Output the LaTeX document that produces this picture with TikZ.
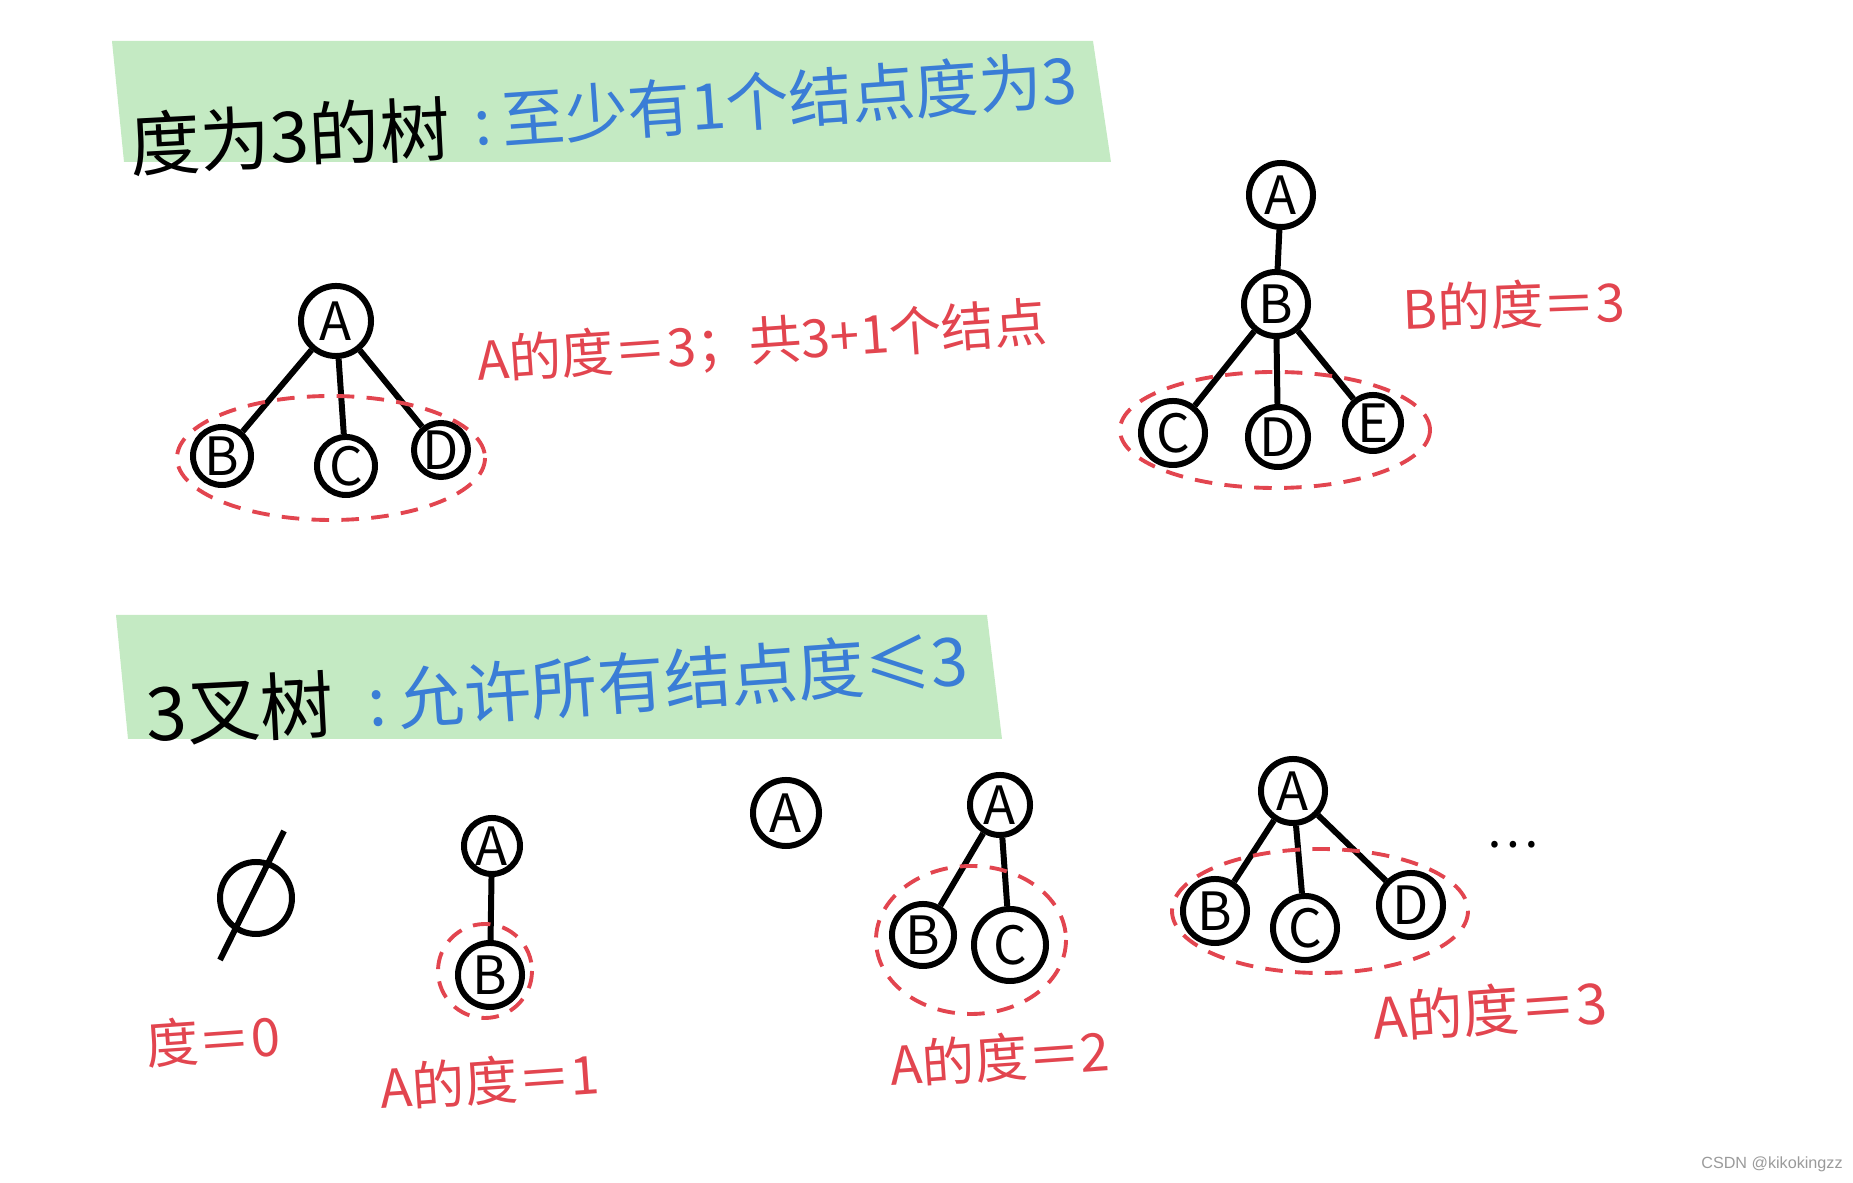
\documentclass[tikz,border=0pt]{standalone}
\usepackage{fontspec}
\setmainfont{Noto Sans CJK SC}
\newfontfamily\wmfont{Liberation Sans}
\usetikzlibrary{positioning}
\definecolor{cgreen}{HTML}{C4EAC3}
\definecolor{cblue}{HTML}{3A7DD6}
\definecolor{cred}{HTML}{E2454F}
\definecolor{cgrey}{HTML}{9A9A9A}
\tikzset{
  every picture/.style={line width=1.7pt},
  vtx/.style={circle, draw=black, line width=1.7pt, minimum size=#1, inner sep=0pt, font=\fontsize{15}{17}\selectfont},
  vtx/.default=0.64cm,
  edge/.style={draw=black, line width=1.7pt},
  grp/.style={draw=cred, line width=1.1pt, dash pattern=on 5pt off 3.5pt},
  band/.style={fill=cgreen, draw=none},
  head/.style={font=\fontsize{20}{24}\selectfont, text=black, rotate=3},
  sub/.style={font=\fontsize{18}{21}\selectfont, text=cblue, rotate=4},
  lbl/.style={font=\fontsize{15}{18}\selectfont, text=cred, rotate=4},
}

\begin{document}
\begin{tikzpicture}[x=0.01cm, y=-0.01cm]
  \useasboundingbox (0,0) rectangle (1853,1183);
  % degree-3 tree: heading
  \fill[band] (112,41) -- (1093,41) -- (1111,162) -- (124,162) -- cycle;
  \node[head] (h1) at (290,136) {度为3的树};
  \node[sub] (s1) at (775,100) {:\,至少有1个结点度为3};
  % degree-3 tree: A with three children
  \node[vtx=0.70cm] (t1a) at (336,321) {A};
  \node[vtx=0.58cm] (t1b) at (222,456) {B};
  \node[vtx=0.58cm] (t1c) at (346,466) {C};
  \node[vtx=0.54cm] (t1d) at (441,450) {D};
  \foreach \k in {t1b, t1c, t1d} {\draw[edge] (t1a) -- (\k);}
  \draw[grp] (331,458) ellipse (154 and 62);
  \node[lbl] (l1) at (762,343) {A的度＝3；共3+1个结点};
  % degree-3 tree: B with three children
  \node[vtx] (t2a) at (1281,195) {A};
  \node[vtx] (t2b) at (1276,304) {B};
  \node[vtx] (t2c) at (1173,433) {C};
  \node[vtx=0.60cm] (t2d) at (1278,437) {D};
  \node[vtx=0.56cm] (t2e) at (1373,423) {E};
  \draw[edge] (t2a) -- (t2b);
  \foreach \k in {t2c, t2d, t2e} {\draw[edge] (t2b) -- (\k);}
  \draw[grp] (1275,430) ellipse (155 and 58);
  \node[lbl, rotate=-2] (l2) at (1514,305) {B的度＝3};
  % ternary tree: heading
  \fill[band] (116,615) -- (987,615) -- (1002,739) -- (128,739) -- cycle;
  \node[head, font=\fontsize{21}{24}\selectfont] (h2) at (240,709) {3叉树};
  \node[sub, font=\fontsize{19}{22}\selectfont] (s2) at (668,680) {:\,允许所有结点度≤3};
  % ternary tree: empty
  \draw (256,898) circle (36);
  \draw (284,831) -- (220,960);
  \node[lbl] (l3) at (213,1040) {度＝0};
  % ternary tree: one child
  \node[vtx=0.56cm] (t3a) at (492,846) {A};
  \node[vtx] (t3b) at (490,975) {B};
  \draw[edge] (t3a) -- (t3b);
  \draw[grp] (485,971) circle (47);
  \node[lbl] (l4) at (490,1081) {A的度＝1};
  % ternary tree: root only
  \node[vtx=0.66cm] (t4a) at (786,813) {A};
  % ternary tree: two children
  \node[vtx=0.60cm] (t5a) at (1000,805) {A};
  \node[vtx=0.62cm] (t5b) at (923,935) {B};
  \node[vtx=0.72cm] (t5c) at (1010,945) {C};
  \foreach \k in {t5b, t5c} {\draw[edge] (t5a) -- (\k);}
  \draw[grp] (971,940) ellipse (95 and 74);
  \node[lbl] (l5) at (1000,1058) {A的度＝2};
  % ternary tree: three children
  \node[vtx] (t6a) at (1293,791) {A};
  \node[vtx] (t6b) at (1215,911) {B};
  \node[vtx] (t6c) at (1305,928) {C};
  \node[vtx] (t6d) at (1411,905) {D};
  \foreach \k in {t6b, t6c, t6d} {\draw[edge] (t6a) -- (\k);}
  \draw[grp] (1320,911) ellipse (148 and 62);
  \node[font=\fontsize{14}{16}\selectfont] (dots) at (1513,845) {…};
  \node[lbl, font=\fontsize{16}{18}\selectfont] (l6) at (1490,1010) {A的度＝3};
  \node[text=cgrey, font=\wmfont\fontsize{4.6}{5}\selectfont] (wm) at (1772,1164) {CSDN @kikokingzz};
\end{tikzpicture}
\end{document}
